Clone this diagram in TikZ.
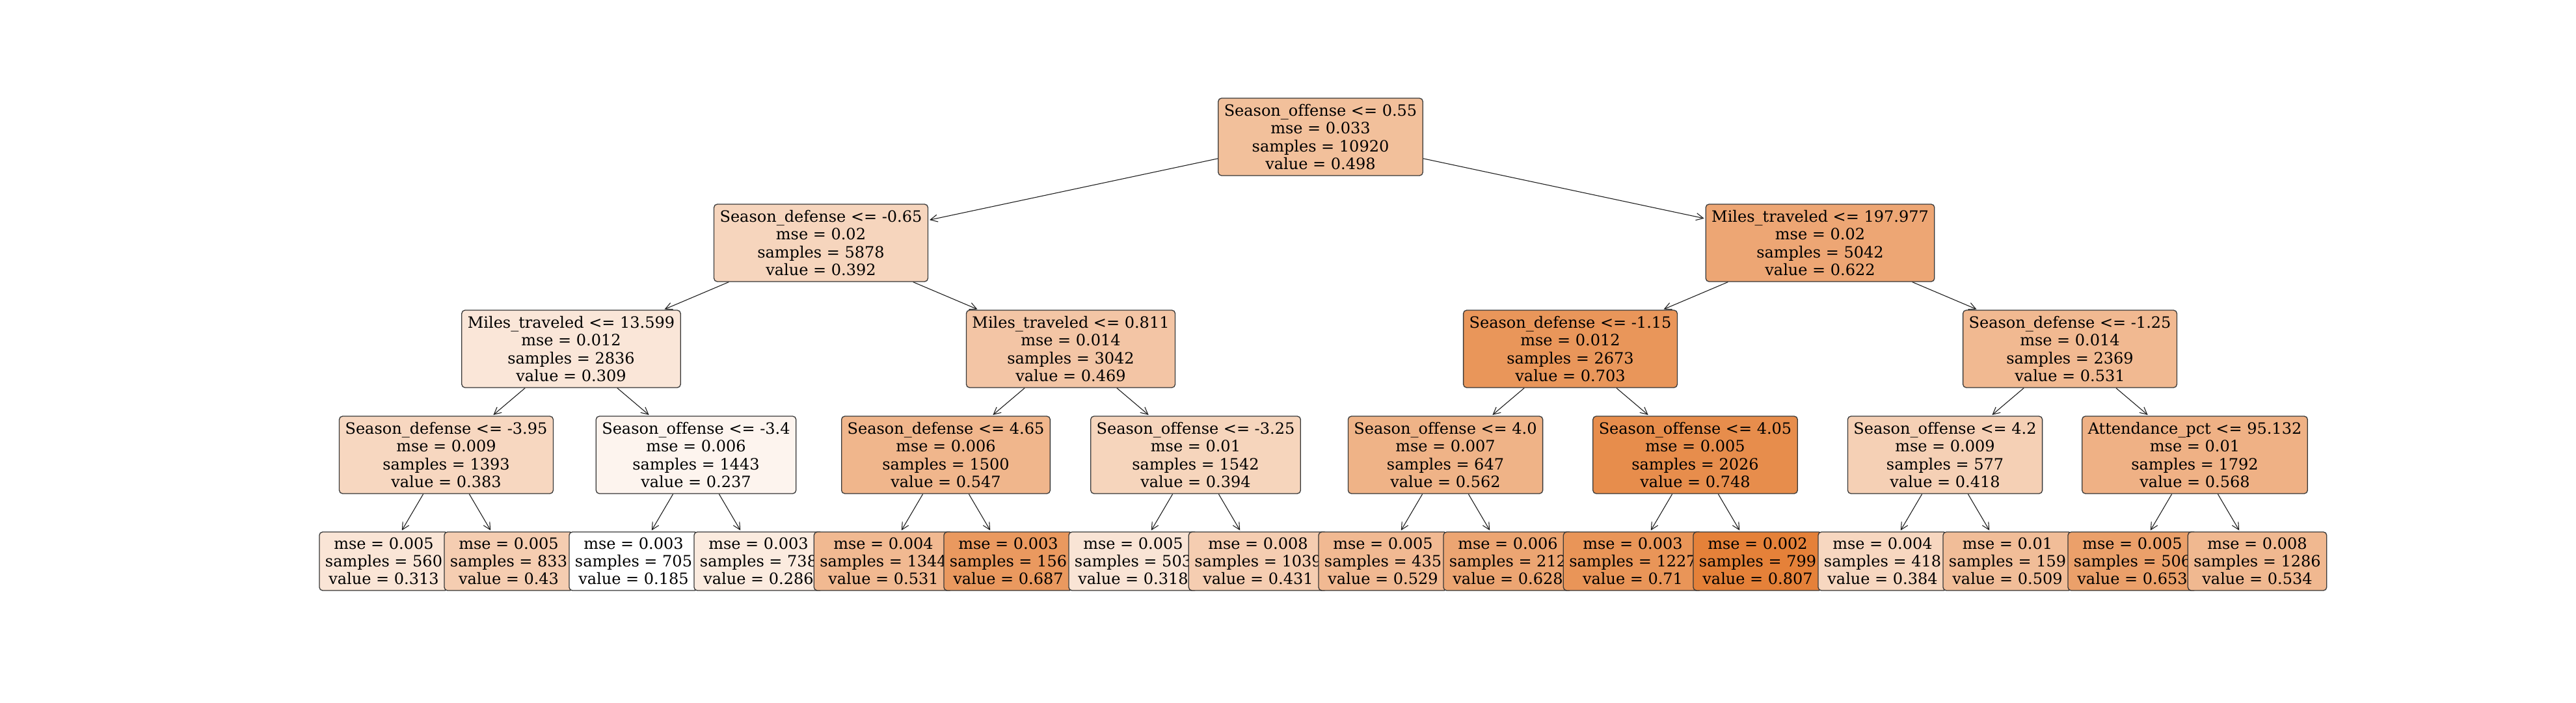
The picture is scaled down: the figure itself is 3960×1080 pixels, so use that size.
\documentclass[tikz,border=0pt]{standalone}
\usepackage{fontspec}
\setmainfont{DejaVu Serif}[Ligatures=NoCommon]
\usetikzlibrary{arrows.meta}
\definecolor{orng}{RGB}{229,129,57}
\newcommand{\treefont}{\fontsize{24}{27.2}\selectfont}
\tikzset{
  tnode/.style={draw=black!78, line width=1.3pt, rounded corners=5pt, inner xsep=9pt, inner ysep=0pt,
    minimum height=119pt, align=center, font=\treefont},
  leafnode/.style={tnode, minimum height=90pt},
  edgearrow/.style={draw=black!88, line width=1.1pt, -{Straight Barb[length=11pt,width=11pt]}, shorten >=2pt}
}
\begin{document}
\begin{tikzpicture}[x=1pt,y=-1pt]
\fill[white] (0,0) rectangle (3960,1080);
\useasboundingbox (0,0) rectangle (3960,1080);
% root and internal nodes
\node[tnode, fill=orng!50.3!white] (n0) at (2030,210.5) {Season\_offense <= 0.55\\mse = 0.033\\samples = 10920\\value = 0.498};
\node[tnode, fill=orng!33.3!white] (n1) at (1262,373.5) {Season\_defense <= -0.65\\mse = 0.02\\samples = 5878\\value = 0.392};
\node[tnode, fill=orng!70.3!white] (n2) at (2798,373.5) {Miles\_traveled <= 197.977\\mse = 0.02\\samples = 5042\\value = 0.622};
\node[tnode, fill=orng!19.9!white] (n3) at (878,536.5) {Miles\_traveled <= 13.599\\mse = 0.012\\samples = 2836\\value = 0.309};
\node[tnode, fill=orng!45.7!white] (n4) at (1646,536.5) {Miles\_traveled <= 0.811\\mse = 0.014\\samples = 3042\\value = 0.469};
\node[tnode, fill=orng!83.3!white] (n5) at (2414,536.5) {Season\_defense <= -1.15\\mse = 0.012\\samples = 2673\\value = 0.703};
\node[tnode, fill=orng!55.6!white] (n6) at (3182,536.5) {Season\_defense <= -1.25\\mse = 0.014\\samples = 2369\\value = 0.531};
\node[tnode, fill=orng!31.8!white] (n7) at (686,699.5) {Season\_defense <= -3.95\\mse = 0.009\\samples = 1393\\value = 0.383};
\node[tnode, fill=orng!8.4!white] (n8) at (1070,699.5) {Season\_offense <= -3.4\\mse = 0.006\\samples = 1443\\value = 0.237};
\node[tnode, fill=orng!58.2!white] (n9) at (1454,699.5) {Season\_defense <= 4.65\\mse = 0.006\\samples = 1500\\value = 0.547};
\node[tnode, fill=orng!33.6!white] (n10) at (1838,699.5) {Season\_offense <= -3.25\\mse = 0.01\\samples = 1542\\value = 0.394};
\node[tnode, fill=orng!60.6!white] (n11) at (2222,699.5) {Season\_offense <= 4.0\\mse = 0.007\\samples = 647\\value = 0.562};
\node[tnode, fill=orng!90.5!white] (n12) at (2606,699.5) {Season\_offense <= 4.05\\mse = 0.005\\samples = 2026\\value = 0.748};
\node[tnode, fill=orng!37.5!white] (n13) at (2990,699.5) {Season\_offense <= 4.2\\mse = 0.009\\samples = 577\\value = 0.418};
\node[tnode, fill=orng!61.6!white] (n14) at (3374,699.5) {Attendance\_pct <= 95.132\\mse = 0.01\\samples = 1792\\value = 0.568};
% leaves
\node[leafnode, fill=orng!20.6!white] (l1) at (590,863) {mse = 0.005\\samples = 560\\value = 0.313};
\node[leafnode, fill=orng!39.4!white] (l2) at (782,863) {mse = 0.005\\samples = 833\\value = 0.43};
\node[leafnode, fill=white] (l3) at (974,863) {mse = 0.003\\samples = 705\\value = 0.185};
\node[leafnode, fill=orng!16.2!white] (l4) at (1166,863) {mse = 0.003\\samples = 738\\value = 0.286};
\node[leafnode, fill=orng!55.6!white] (l5) at (1358,863) {mse = 0.004\\samples = 1344\\value = 0.531};
\node[leafnode, fill=orng!80.7!white] (l6) at (1550,863) {mse = 0.003\\samples = 156\\value = 0.687};
\node[leafnode, fill=orng!21.4!white] (l7) at (1742,863) {mse = 0.005\\samples = 503\\value = 0.318};
\node[leafnode, fill=orng!39.5!white] (l8) at (1934,863) {mse = 0.008\\samples = 1039\\value = 0.431};
\node[leafnode, fill=orng!55.3!white] (l9) at (2126,863) {mse = 0.005\\samples = 435\\value = 0.529};
\node[leafnode, fill=orng!71.2!white] (l10) at (2318,863) {mse = 0.006\\samples = 212\\value = 0.628};
\node[leafnode, fill=orng!84.4!white] (l11) at (2510,863) {mse = 0.003\\samples = 1227\\value = 0.71};
\node[leafnode, fill=orng] (l12) at (2702,863) {mse = 0.002\\samples = 799\\value = 0.807};
\node[leafnode, fill=orng!32!white] (l13) at (2894,863) {mse = 0.004\\samples = 418\\value = 0.384};
\node[leafnode, fill=orng!52.1!white] (l14) at (3086,863) {mse = 0.01\\samples = 159\\value = 0.509};
\node[leafnode, fill=orng!75.2!white] (l15) at (3278,863) {mse = 0.005\\samples = 506\\value = 0.653};
\node[leafnode, fill=orng!56.1!white] (l16) at (3470,863) {mse = 0.008\\samples = 1286\\value = 0.534};
% edges
\draw[edgearrow] (n0) -- (n1);
\draw[edgearrow] (n0) -- (n2);
\draw[edgearrow] (n1) -- (n3);
\draw[edgearrow] (n1) -- (n4);
\draw[edgearrow] (n2) -- (n5);
\draw[edgearrow] (n2) -- (n6);
\draw[edgearrow] (n3) -- (n7);
\draw[edgearrow] (n3) -- (n8);
\draw[edgearrow] (n4) -- (n9);
\draw[edgearrow] (n4) -- (n10);
\draw[edgearrow] (n5) -- (n11);
\draw[edgearrow] (n5) -- (n12);
\draw[edgearrow] (n6) -- (n13);
\draw[edgearrow] (n6) -- (n14);
\draw[edgearrow] (n7) -- (l1);
\draw[edgearrow] (n7) -- (l2);
\draw[edgearrow] (n8) -- (l3);
\draw[edgearrow] (n8) -- (l4);
\draw[edgearrow] (n9) -- (l5);
\draw[edgearrow] (n9) -- (l6);
\draw[edgearrow] (n10) -- (l7);
\draw[edgearrow] (n10) -- (l8);
\draw[edgearrow] (n11) -- (l9);
\draw[edgearrow] (n11) -- (l10);
\draw[edgearrow] (n12) -- (l11);
\draw[edgearrow] (n12) -- (l12);
\draw[edgearrow] (n13) -- (l13);
\draw[edgearrow] (n13) -- (l14);
\draw[edgearrow] (n14) -- (l15);
\draw[edgearrow] (n14) -- (l16);
\end{tikzpicture}
\end{document}
